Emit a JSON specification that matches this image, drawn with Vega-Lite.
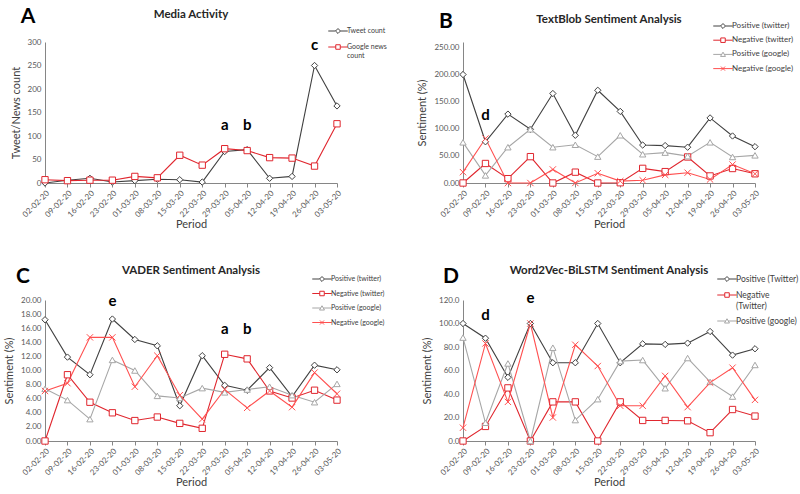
{
  "$schema": "https://vega.github.io/schema/vega-lite/v6.json",
  "padding": {"left": 3, "top": 6, "right": 0, "bottom": 0},
  "background": "white",
  "datasets": {
    "A": [
      {"period": "02-02-20", "Tweet count": 0, "Google news count": 7},
      {"period": "09-02-20", "Tweet count": 6, "Google news count": 5},
      {"period": "16-02-20", "Tweet count": 10, "Google news count": 6},
      {"period": "23-02-20", "Tweet count": 2, "Google news count": 6},
      {"period": "01-03-20", "Tweet count": 5, "Google news count": 14},
      {"period": "08-03-20", "Tweet count": 8, "Google news count": 11},
      {"period": "15-03-20", "Tweet count": 7, "Google news count": 59},
      {"period": "22-03-20", "Tweet count": 2, "Google news count": 38},
      {"period": "29-03-20", "Tweet count": 67, "Google news count": 73},
      {"period": "05-04-20", "Tweet count": 71, "Google news count": 69},
      {"period": "12-04-20", "Tweet count": 10, "Google news count": 54},
      {"period": "19-04-20", "Tweet count": 14, "Google news count": 53},
      {"period": "26-04-20", "Tweet count": 250, "Google news count": 36},
      {"period": "03-05-20", "Tweet count": 164, "Google news count": 126}
    ],
    "B": [
      {"period": "02-02-20", "Positive (twitter)": 200, "Negative (twitter)": 0, "Positive (google)": 75, "Negative (google)": 20},
      {"period": "09-02-20", "Positive (twitter)": 76, "Negative (twitter)": 36, "Positive (google)": 14, "Negative (google)": 82},
      {"period": "16-02-20", "Positive (twitter)": 127, "Negative (twitter)": 8, "Positive (google)": 66, "Negative (google)": 0},
      {"period": "23-02-20", "Positive (twitter)": 99, "Negative (twitter)": 48.6, "Positive (google)": 99, "Negative (google)": 0},
      {"period": "01-03-20", "Positive (twitter)": 165, "Negative (twitter)": 0, "Positive (google)": 66, "Negative (google)": 25},
      {"period": "08-03-20", "Positive (twitter)": 88, "Negative (twitter)": 20, "Positive (google)": 70.5, "Negative (google)": 0},
      {"period": "15-03-20", "Positive (twitter)": 171, "Negative (twitter)": 0, "Positive (google)": 48.6, "Negative (google)": 18},
      {"period": "22-03-20", "Positive (twitter)": 132, "Negative (twitter)": 0.5, "Positive (google)": 88, "Negative (google)": 3.5},
      {"period": "29-03-20", "Positive (twitter)": 70, "Negative (twitter)": 27, "Positive (google)": 53, "Negative (google)": 5},
      {"period": "05-04-20", "Positive (twitter)": 69, "Negative (twitter)": 21, "Positive (google)": 56, "Negative (google)": 15},
      {"period": "12-04-20", "Positive (twitter)": 66, "Negative (twitter)": 48, "Positive (google)": 49.5, "Negative (google)": 19},
      {"period": "19-04-20", "Positive (twitter)": 120, "Negative (twitter)": 13, "Positive (google)": 75, "Negative (google)": 6.5},
      {"period": "26-04-20", "Positive (twitter)": 86.7, "Negative (twitter)": 26.7, "Positive (google)": 48, "Negative (google)": 34},
      {"period": "03-05-20", "Positive (twitter)": 67, "Negative (twitter)": 17, "Positive (google)": 51, "Negative (google)": 17}
    ],
    "C": [
      {"period": "02-02-20", "Positive (twitter)": 17.2, "Negative (twitter)": 0, "Positive (google)": 7.4, "Negative (google)": 7.1},
      {"period": "09-02-20", "Positive (twitter)": 11.9, "Negative (twitter)": 9.4, "Positive (google)": 5.8, "Negative (google)": 8.2},
      {"period": "16-02-20", "Positive (twitter)": 9.4, "Negative (twitter)": 5.5, "Positive (google)": 3.1, "Negative (google)": 14.7},
      {"period": "23-02-20", "Positive (twitter)": 17.3, "Negative (twitter)": 4.0, "Positive (google)": 11.5, "Negative (google)": 14.7},
      {"period": "01-03-20", "Positive (twitter)": 14.4, "Negative (twitter)": 2.9, "Positive (google)": 10.0, "Negative (google)": 7.7},
      {"period": "08-03-20", "Positive (twitter)": 13.5, "Negative (twitter)": 3.4, "Positive (google)": 6.4, "Negative (google)": 12.1},
      {"period": "15-03-20", "Positive (twitter)": 5.0, "Negative (twitter)": 2.5, "Positive (google)": 6.1, "Negative (google)": 6.5},
      {"period": "22-03-20", "Positive (twitter)": 12.1, "Negative (twitter)": 1.8, "Positive (google)": 7.5, "Negative (google)": 3.1},
      {"period": "29-03-20", "Positive (twitter)": 7.9, "Negative (twitter)": 12.3, "Positive (google)": 6.9, "Negative (google)": 7.3},
      {"period": "05-04-20", "Positive (twitter)": 7.2, "Negative (twitter)": 11.65, "Positive (google)": 7.3, "Negative (google)": 4.7},
      {"period": "12-04-20", "Positive (twitter)": 10.4, "Negative (twitter)": 7.1, "Positive (google)": 7.7, "Negative (google)": 7.1},
      {"period": "19-04-20", "Positive (twitter)": 6.3, "Negative (twitter)": 6.1, "Positive (google)": 6.5, "Negative (google)": 4.8},
      {"period": "26-04-20", "Positive (twitter)": 10.75, "Negative (twitter)": 7.2, "Positive (google)": 5.5, "Negative (google)": 9.7},
      {"period": "03-05-20", "Positive (twitter)": 10.1, "Negative (twitter)": 5.8, "Positive (google)": 8.1, "Negative (google)": 6.7}
    ],
    "D": [
      {"period": "02-02-20", "Positive (Twitter)": 100, "Negative (Twitter)": 0, "Positive (google)": 88, "Negative (google)": 11.3},
      {"period": "09-02-20", "Positive (Twitter)": 87.5, "Negative (Twitter)": 12.4, "Positive (google)": 15.5, "Negative (google)": 83},
      {"period": "16-02-20", "Positive (Twitter)": 54.2, "Negative (Twitter)": 45.2, "Positive (google)": 66, "Negative (google)": 33.3},
      {"period": "23-02-20", "Positive (Twitter)": 100, "Negative (Twitter)": 0, "Positive (google)": 0, "Negative (google)": 100},
      {"period": "01-03-20", "Positive (Twitter)": 66.6, "Negative (Twitter)": 33.3, "Positive (google)": 79.4, "Negative (google)": 20},
      {"period": "08-03-20", "Positive (Twitter)": 66.6, "Negative (Twitter)": 33.3, "Positive (google)": 17.8, "Negative (google)": 81.9},
      {"period": "15-03-20", "Positive (Twitter)": 100, "Negative (Twitter)": 0, "Positive (google)": 35.6, "Negative (google)": 63.8},
      {"period": "22-03-20", "Positive (Twitter)": 66.6, "Negative (Twitter)": 33.3, "Positive (google)": 68, "Negative (google)": 30},
      {"period": "29-03-20", "Positive (Twitter)": 82.7, "Negative (Twitter)": 17.5, "Positive (google)": 68.9, "Negative (google)": 30},
      {"period": "05-04-20", "Positive (Twitter)": 82.2, "Negative (Twitter)": 17.5, "Positive (google)": 44.9, "Negative (google)": 55.4},
      {"period": "12-04-20", "Positive (Twitter)": 83.3, "Negative (Twitter)": 17.2, "Positive (google)": 70.6, "Negative (google)": 28.8},
      {"period": "19-04-20", "Positive (Twitter)": 93.2, "Negative (Twitter)": 7.1, "Positive (google)": 50.3, "Negative (google)": 49.7},
      {"period": "26-04-20", "Positive (Twitter)": 73.1, "Negative (Twitter)": 26.8, "Positive (google)": 37.8, "Negative (google)": 62.4},
      {"period": "03-05-20", "Positive (Twitter)": 78.5, "Negative (Twitter)": 21.2, "Positive (google)": 64.7, "Negative (google)": 35}
    ],
    "ann": [
      {"panel": "A", "period": "29-03-20", "value": 124, "label": "a"},
      {"panel": "A", "period": "05-04-20", "value": 124, "label": "b"},
      {"panel": "A", "period": "26-04-20", "value": 294, "label": "c"},
      {"panel": "B", "period": "09-02-20", "value": 125, "label": "d"},
      {"panel": "C", "period": "23-02-20", "value": 19.8, "label": "e"},
      {"panel": "C", "period": "29-03-20", "value": 15.9, "label": "a"},
      {"panel": "C", "period": "05-04-20", "value": 15.9, "label": "b"},
      {"panel": "D", "period": "09-02-20", "value": 107, "label": "d"},
      {"panel": "D", "period": "23-02-20", "value": 122, "label": "e"}
    ],
    "letters": [
      {"panel": "A", "period": "02-02-20", "value": 300, "label": "A"},
      {"panel": "B", "period": "02-02-20", "value": 250, "label": "B"},
      {"panel": "C", "period": "02-02-20", "value": 20, "label": "C"},
      {"panel": "D", "period": "02-02-20", "value": 120, "label": "D"}
    ]
  },
  "columns": 2,
  "concat": [
    {
      "width": 292, "height": 141,
      "title": {"text": "Media Activity", "offset": -14},
      "layer": [
        {
          "data": {"name": "A"},
          "transform": [{"fold": ["Tweet count", "Google news count"], "as": ["series", "value"]}],
          "encoding": {
            "x": {"field": "period", "type": "ordinal", "scale": {"type": "point", "padding": 0, "domain": ["02-02-20","09-02-20","16-02-20","23-02-20","01-03-20","08-03-20","15-03-20","22-03-20","29-03-20","05-04-20","12-04-20","19-04-20","26-04-20","03-05-20"]}, "axis": {"title": "Period"}},
            "y": {"field": "value", "type": "quantitative", "scale": {"domain": [0, 300]}, "axis": {"values": [0, 50, 100, 150, 200, 250, 300], "tickCount": 20, "format": "d", "title": "Tweet/News count", "labelOverlap": false}},
            "color": {"field": "series", "type": "nominal", "scale": {"domain": ["Tweet count", "Google news count"], "range": ["#404040", "#e0262e"]},
              "legend": {"orient": "none", "legendX": 285, "legendY": -19, "title": null, "symbolSize": 225, "symbolStrokeWidth": 1, "symbolOpacity": 1, "labelOffset": 1, "rowPadding": 3, "labelFontSize": 7,
                "labelExpr": "datum.label == 'Google news count' ? ['Google news', 'count'] : datum.label"}}
          },
          "layer": [
            {"mark": {"type": "line", "strokeWidth": 1.1}},
            {"mark": {"type": "point", "opacity": 0, "size": 10},
              "encoding": {"shape": {"field": "series", "type": "nominal", "scale": {"domain": ["Tweet count", "Google news count"], "range": ["M-1.3,0H-0.33M0.33,0H1.3M0,-0.33L0.33,0L0,0.33L-0.33,0Z", "M-1.3,0H-0.3M0.3,0H1.3M-0.3,-0.3H0.3V0.3H-0.3Z"]},
                "legend": {"orient": "none", "legendX": 285, "legendY": -19, "title": null, "symbolSize": 225, "symbolStrokeWidth": 1, "symbolOpacity": 1, "labelOffset": 1, "rowPadding": 3, "labelFontSize": 7,
                  "labelExpr": "datum.label == 'Google news count' ? ['Google news', 'count'] : datum.label"}}}},
            {"transform": [{"filter": "datum.series == 'Tweet count'"}], "mark": {"type": "point", "shape": "diamond", "filled": false, "fill": "white", "size": 40, "strokeWidth": 1, "opacity": 1}},
            {"transform": [{"filter": "datum.series == 'Google news count'"}], "mark": {"type": "point", "shape": "square", "filled": false, "fill": "white", "size": 40, "strokeWidth": 1, "opacity": 1}}
          ]
        },
        {
          "data": {"name": "ann"}, "transform": [{"filter": "datum.panel == 'A'"}],
          "mark": {"type": "text", "font": "Lato", "fontSize": 15, "fontWeight": "bold", "color": "black", "baseline": "middle"},
          "encoding": {"x": {"field": "period", "type": "ordinal"}, "y": {"field": "value", "type": "quantitative"}, "text": {"field": "label"}}
        },
        {
          "data": {"name": "letters"}, "transform": [{"filter": "datum.panel == 'A'"}],
          "mark": {"type": "text", "font": "Lato", "fontSize": 21, "fontWeight": "bold", "color": "black", "baseline": "middle", "dx": -17, "dy": -25},
          "encoding": {"x": {"field": "period", "type": "ordinal"}, "y": {"field": "value", "type": "quantitative"}, "text": {"field": "label"}}
        }
      ]
    },
    {
      "width": 292, "height": 141,
      "title": {"text": "TextBlob Sentiment Analysis", "offset": -14},
      "layer": [
        {
          "data": {"name": "B"},
          "transform": [{"fold": ["Positive (twitter)", "Negative (twitter)", "Positive (google)", "Negative (google)"], "as": ["series", "value"]}],
          "encoding": {
            "x": {"field": "period", "type": "ordinal", "scale": {"type": "point", "padding": 0, "domain": ["02-02-20","09-02-20","16-02-20","23-02-20","01-03-20","08-03-20","15-03-20","22-03-20","29-03-20","05-04-20","12-04-20","19-04-20","26-04-20","03-05-20"]}, "axis": {"title": "Period"}},
            "y": {"field": "value", "type": "quantitative", "scale": {"domain": [0, 250]}, "axis": {"values": [0, 50, 100, 150, 200, 250], "tickCount": 20, "format": ".2f", "title": "Sentiment (%)", "labelOverlap": false}},
            "color": {"field": "series", "type": "nominal", "scale": {"domain": ["Positive (twitter)", "Negative (twitter)", "Positive (google)", "Negative (google)"], "range": ["#404040", "#e0262e", "#a6a6a6", "#ff5050"]},
              "legend": {"orient": "none", "legendX": 252, "legendY": -24, "title": null, "symbolSize": 225, "symbolStrokeWidth": 1, "symbolOpacity": 1, "labelOffset": 1, "rowPadding": 1.2, "labelFontSize": 8}}
          },
          "layer": [
            {"mark": {"type": "line", "strokeWidth": 1.1}},
            {"mark": {"type": "point", "opacity": 0, "size": 10},
              "encoding": {"shape": {"field": "series", "type": "nominal", "scale": {"domain": ["Positive (twitter)", "Negative (twitter)", "Positive (google)", "Negative (google)"], "range": ["M-1.3,0H-0.33M0.33,0H1.3M0,-0.33L0.33,0L0,0.33L-0.33,0Z", "M-1.3,0H-0.3M0.3,0H1.3M-0.3,-0.3H0.3V0.3H-0.3Z", "M-1.3,0H-0.17M0.17,0H1.3M0,-0.3L0.33,0.27H-0.33Z", "M-1.3,0H1.3M-0.27,-0.27L0.27,0.27M-0.27,0.27L0.27,-0.27"]},
                "legend": {"orient": "none", "legendX": 252, "legendY": -24, "title": null, "symbolSize": 225, "symbolStrokeWidth": 1, "symbolOpacity": 1, "labelOffset": 1, "rowPadding": 1.2, "labelFontSize": 8}}}},
            {"transform": [{"filter": "datum.series == 'Positive (twitter)'"}], "mark": {"type": "point", "shape": "diamond", "filled": false, "fill": "white", "size": 40, "strokeWidth": 1, "opacity": 1}},
            {"transform": [{"filter": "datum.series == 'Negative (twitter)'"}], "mark": {"type": "point", "shape": "square", "filled": false, "fill": "white", "size": 40, "strokeWidth": 1, "opacity": 1}},
            {"transform": [{"filter": "datum.series == 'Positive (google)'"}], "mark": {"type": "point", "shape": "triangle-up", "filled": false, "fill": "white", "size": 40, "strokeWidth": 1, "opacity": 1}},
            {"transform": [{"filter": "datum.series == 'Negative (google)'"}], "mark": {"type": "point", "shape": "M-1,-1L1,1M-1,1L1,-1", "filled": false, "size": 40, "strokeWidth": 1, "opacity": 1}}
          ]
        },
        {
          "data": {"name": "ann"}, "transform": [{"filter": "datum.panel == 'B'"}],
          "mark": {"type": "text", "font": "Lato", "fontSize": 15, "fontWeight": "bold", "color": "black", "baseline": "middle"},
          "encoding": {"x": {"field": "period", "type": "ordinal"}, "y": {"field": "value", "type": "quantitative"}, "text": {"field": "label"}}
        },
        {
          "data": {"name": "letters"}, "transform": [{"filter": "datum.panel == 'B'"}],
          "mark": {"type": "text", "font": "Lato", "fontSize": 21, "fontWeight": "bold", "color": "black", "baseline": "middle", "dx": -17, "dy": -25},
          "encoding": {"x": {"field": "period", "type": "ordinal"}, "y": {"field": "value", "type": "quantitative"}, "text": {"field": "label"}}
        }
      ]
    },
    {
      "width": 292, "height": 141,
      "title": {"text": "VADER Sentiment Analysis", "offset": -10},
      "layer": [
        {
          "data": {"name": "C"},
          "transform": [{"fold": ["Positive (twitter)", "Negative (twitter)", "Positive (google)", "Negative (google)"], "as": ["series", "value"]}],
          "encoding": {
            "x": {"field": "period", "type": "ordinal", "scale": {"type": "point", "padding": 0, "domain": ["02-02-20","09-02-20","16-02-20","23-02-20","01-03-20","08-03-20","15-03-20","22-03-20","29-03-20","05-04-20","12-04-20","19-04-20","26-04-20","03-05-20"]}, "axis": {"title": "Period"}},
            "y": {"field": "value", "type": "quantitative", "scale": {"domain": [0, 20]}, "axis": {"values": [0, 2, 4, 6, 8, 10, 12, 14, 16, 18, 20], "tickCount": 20, "format": ".2f", "title": "Sentiment (%)", "labelOverlap": false}},
            "color": {"field": "series", "type": "nominal", "scale": {"domain": ["Positive (twitter)", "Negative (twitter)", "Positive (google)", "Negative (google)"], "range": ["#404040", "#e0262e", "#a6a6a6", "#ff5050"]},
              "legend": {"orient": "none", "legendX": 269, "legendY": -29, "title": null, "symbolSize": 225, "symbolStrokeWidth": 1, "symbolOpacity": 1, "labelOffset": 1, "rowPadding": 1.5, "labelFontSize": 7}}
          },
          "layer": [
            {"mark": {"type": "line", "strokeWidth": 1.1}},
            {"mark": {"type": "point", "opacity": 0, "size": 10},
              "encoding": {"shape": {"field": "series", "type": "nominal", "scale": {"domain": ["Positive (twitter)", "Negative (twitter)", "Positive (google)", "Negative (google)"], "range": ["M-1.3,0H-0.33M0.33,0H1.3M0,-0.33L0.33,0L0,0.33L-0.33,0Z", "M-1.3,0H-0.3M0.3,0H1.3M-0.3,-0.3H0.3V0.3H-0.3Z", "M-1.3,0H-0.17M0.17,0H1.3M0,-0.3L0.33,0.27H-0.33Z", "M-1.3,0H1.3M-0.27,-0.27L0.27,0.27M-0.27,0.27L0.27,-0.27"]},
                "legend": {"orient": "none", "legendX": 269, "legendY": -29, "title": null, "symbolSize": 225, "symbolStrokeWidth": 1, "symbolOpacity": 1, "labelOffset": 1, "rowPadding": 1.5, "labelFontSize": 7}}}},
            {"transform": [{"filter": "datum.series == 'Positive (twitter)'"}], "mark": {"type": "point", "shape": "diamond", "filled": false, "fill": "white", "size": 40, "strokeWidth": 1, "opacity": 1}},
            {"transform": [{"filter": "datum.series == 'Negative (twitter)'"}], "mark": {"type": "point", "shape": "square", "filled": false, "fill": "white", "size": 40, "strokeWidth": 1, "opacity": 1}},
            {"transform": [{"filter": "datum.series == 'Positive (google)'"}], "mark": {"type": "point", "shape": "triangle-up", "filled": false, "fill": "white", "size": 40, "strokeWidth": 1, "opacity": 1}},
            {"transform": [{"filter": "datum.series == 'Negative (google)'"}], "mark": {"type": "point", "shape": "M-1,-1L1,1M-1,1L1,-1", "filled": false, "size": 40, "strokeWidth": 1, "opacity": 1}}
          ]
        },
        {
          "data": {"name": "ann"}, "transform": [{"filter": "datum.panel == 'C'"}],
          "mark": {"type": "text", "font": "Lato", "fontSize": 15, "fontWeight": "bold", "color": "black", "baseline": "middle"},
          "encoding": {"x": {"field": "period", "type": "ordinal"}, "y": {"field": "value", "type": "quantitative"}, "text": {"field": "label"}}
        },
        {
          "data": {"name": "letters"}, "transform": [{"filter": "datum.panel == 'C'"}],
          "mark": {"type": "text", "font": "Lato", "fontSize": 21, "fontWeight": "bold", "color": "black", "baseline": "middle", "dx": -22, "dy": -23},
          "encoding": {"x": {"field": "period", "type": "ordinal"}, "y": {"field": "value", "type": "quantitative"}, "text": {"field": "label"}}
        }
      ]
    },
    {
      "width": 292, "height": 141,
      "title": {"text": "Word2Vec-BiLSTM Sentiment Analysis", "offset": -10},
      "layer": [
        {
          "data": {"name": "D"},
          "transform": [{"fold": ["Positive (Twitter)", "Negative (Twitter)", "Positive (google)", "Negative (google)"], "as": ["series", "value"]}],
          "encoding": {
            "x": {"field": "period", "type": "ordinal", "scale": {"type": "point", "padding": 0, "domain": ["02-02-20","09-02-20","16-02-20","23-02-20","01-03-20","08-03-20","15-03-20","22-03-20","29-03-20","05-04-20","12-04-20","19-04-20","26-04-20","03-05-20"]}, "axis": {"title": "Period"}},
            "y": {"field": "value", "type": "quantitative", "scale": {"domain": [0, 120]}, "axis": {"values": [0, 20, 40, 60, 80, 100, 120], "tickCount": 20, "format": ".1f", "title": "Sentiment (%)", "labelOverlap": false}},
            "color": {"field": "series", "type": "nominal", "scale": {"domain": ["Positive (Twitter)", "Negative (Twitter)", "Positive (google)", "Negative (google)"], "range": ["#404040", "#e0262e", "#a6a6a6", "#ff5050"]},
              "legend": {"orient": "none", "legendX": 256, "legendY": -29, "title": null, "symbolSize": 225, "symbolStrokeWidth": 1, "symbolOpacity": 1, "labelOffset": 1, "rowPadding": 3, "labelFontSize": 8.5,
                "values": ["Positive (Twitter)", "Negative (Twitter)", "Positive (google)"],
                "labelExpr": "datum.label == 'Negative (Twitter)' ? ['Negative', '(Twitter)'] : datum.label"}}
          },
          "layer": [
            {"mark": {"type": "line", "strokeWidth": 1.1}},
            {"mark": {"type": "point", "opacity": 0, "size": 10},
              "encoding": {"shape": {"field": "series", "type": "nominal", "scale": {"domain": ["Positive (Twitter)", "Negative (Twitter)", "Positive (google)", "Negative (google)"], "range": ["M-1.3,0H-0.33M0.33,0H1.3M0,-0.33L0.33,0L0,0.33L-0.33,0Z", "M-1.3,0H-0.3M0.3,0H1.3M-0.3,-0.3H0.3V0.3H-0.3Z", "M-1.3,0H-0.17M0.17,0H1.3M0,-0.3L0.33,0.27H-0.33Z", "M-1.3,0H1.3M-0.27,-0.27L0.27,0.27M-0.27,0.27L0.27,-0.27"]},
                "legend": {"orient": "none", "legendX": 256, "legendY": -29, "title": null, "symbolSize": 225, "symbolStrokeWidth": 1, "symbolOpacity": 1, "labelOffset": 1, "rowPadding": 3, "labelFontSize": 8.5,
                  "values": ["Positive (Twitter)", "Negative (Twitter)", "Positive (google)"],
                  "labelExpr": "datum.label == 'Negative (Twitter)' ? ['Negative', '(Twitter)'] : datum.label"}}}},
            {"transform": [{"filter": "datum.series == 'Positive (Twitter)'"}], "mark": {"type": "point", "shape": "diamond", "filled": false, "fill": "white", "size": 40, "strokeWidth": 1, "opacity": 1}},
            {"transform": [{"filter": "datum.series == 'Negative (Twitter)'"}], "mark": {"type": "point", "shape": "square", "filled": false, "fill": "white", "size": 40, "strokeWidth": 1, "opacity": 1}},
            {"transform": [{"filter": "datum.series == 'Positive (google)'"}], "mark": {"type": "point", "shape": "triangle-up", "filled": false, "fill": "white", "size": 40, "strokeWidth": 1, "opacity": 1}},
            {"transform": [{"filter": "datum.series == 'Negative (google)'"}], "mark": {"type": "point", "shape": "M-1,-1L1,1M-1,1L1,-1", "filled": false, "size": 40, "strokeWidth": 1, "opacity": 1}}
          ]
        },
        {
          "data": {"name": "ann"}, "transform": [{"filter": "datum.panel == 'D'"}],
          "mark": {"type": "text", "font": "Lato", "fontSize": 15, "fontWeight": "bold", "color": "black", "baseline": "middle"},
          "encoding": {"x": {"field": "period", "type": "ordinal"}, "y": {"field": "value", "type": "quantitative"}, "text": {"field": "label"}}
        },
        {
          "data": {"name": "letters"}, "transform": [{"filter": "datum.panel == 'D'"}],
          "mark": {"type": "text", "font": "Lato", "fontSize": 21, "fontWeight": "bold", "color": "black", "baseline": "middle", "dx": -12, "dy": -23},
          "encoding": {"x": {"field": "period", "type": "ordinal"}, "y": {"field": "value", "type": "quantitative"}, "text": {"field": "label"}}
        }
      ]
    }
  ],
  "spacing": {"row": 117, "column": 126},
  "bounds": "flush",
  "resolve": {"scale": {"color": "independent", "shape": "independent", "x": "independent", "y": "independent"}, "legend": {"color": "independent", "shape": "independent"}, "axis": {"x": "independent", "y": "independent"}},
  "config": {
    "view": {"stroke": null},
    "font": "Lato",
    "title": {"font": "Lato", "fontSize": 11.5, "fontWeight": "bold", "color": "#262626", "anchor": "middle", "frame": "group"},
    "axis": {"labelFont": "Lato", "labelFontSize": 8, "labelColor": "#595959", "titleFont": "Lato", "titleFontSize": 11, "titleFontWeight": "normal", "titleColor": "#404040", "domainColor": "#868686", "tickColor": "#868686", "grid": false, "labelOverlap": false},
    "axisX": {"labelAngle": -45, "tickSize": 4, "titlePadding": 0},
    "axisY": {"ticks": false, "labelPadding": 4, "labelOverlap": false, "titlePadding": 6},
    "legend": {"labelFont": "Lato", "labelFontSize": 8.5, "labelColor": "#404040"}
  }
}
